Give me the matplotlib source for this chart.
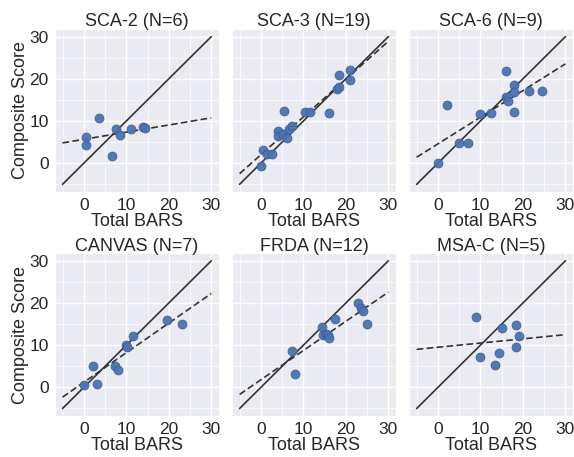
import matplotlib
matplotlib.use("Agg")
import matplotlib.pyplot as plt
import numpy as np
import seaborn as sns
from matplotlib.ticker import MultipleLocator

sns.set_style("darkgrid")
plt.rcParams['font.family'] = ['Liberation Sans', 'DejaVu Sans']

titles = ["SCA-2 (N=6)", "SCA-3 (N=19)", "SCA-6 (N=9)",
          "CANVAS (N=7)", "FRDA (N=12)", "MSA-C (N=5)"]

# total BARS (x) vs composite score (y)
sca2_x = [0.5, 0.5, 3.5, 6.6, 7.6, 8.5, 11.1, 14.0, 14.5]
sca2_y = [6.1, 4.3, 10.7, 1.7, 8.0, 6.7, 8.0, 8.5, 8.3]

sca3_x = [0.1, 0.5, 1.45, 2.6, 4.05, 4.05, 5.5, 5.2, 6.2, 6.6, 7.4,
          10.5, 11.5, 16.0, 17.8, 18.4, 18.4, 20.9, 20.9]
sca3_y = [-0.7, 3.2, 2.1, 2.1, 7.7, 6.4, 12.4, 7.0, 5.9, 8.1, 8.9,
          12.2, 12.2, 11.8, 17.6, 18.0, 20.9, 22.2, 19.7]

sca6_x = [0.1, 2.1, 5.0, 7.0, 9.95, 12.5, 16.0, 16.0, 16.5, 18.0, 18.0,
          18.0, 21.4, 24.4]
sca6_y = [0.1, 13.8, 4.9, 4.7, 11.6, 11.8, 21.9, 15.6, 14.8, 18.5, 16.9,
          12.2, 17.1, 17.1]

canvas_x = [0.1, 2.1, 3.1, 7.4, 8.0, 10.0, 10.1, 11.5, 19.6, 23.0]
canvas_y = [0.6, 5.0, 0.8, 5.1, 4.2, 10.1, 9.5, 12.2, 16.0, 15.1]

frda_x = [7.4, 8.1, 14.4, 14.7, 15.3, 15.7, 16.0, 17.4, 22.9, 23.6, 24.1, 25.0]
frda_y = [8.6, 3.1, 14.3, 12.4, 12.6, 12.3, 11.8, 16.3, 20.0, 18.9, 18.0, 15.1]

msac_x = [9.0, 9.95, 13.5, 14.3, 15.1, 18.4, 19.0, 18.4]
msac_y = [16.6, 7.1, 5.3, 8.1, 14.0, 14.9, 12.2, 9.6]

xs = [sca2_x, sca3_x, sca6_x, canvas_x, frda_x, msac_x]
ys = [sca2_y, sca3_y, sca6_y, canvas_y, frda_y, msac_y]

line_range = np.array([-5, 30])

fig, axes = plt.subplots(2, 3, figsize=(5.74, 4.57), dpi=100, sharey=True)
fig.subplots_adjust(left=0.096, right=0.998, top=0.936, bottom=0.09,
                    wspace=0.082, hspace=0.38)

for i, ax in enumerate(axes.flat):
    x = np.array(xs[i])
    y = np.array(ys[i])
    ax.plot(line_range, line_range, color="#333333", lw=1.2, zorder=2)
    slope, icpt = np.polyfit(x, y, 1)
    ax.plot(line_range, slope * line_range + icpt, color="#333333", lw=1.2,
            ls=(0, (4, 2)), zorder=2)
    ax.scatter(x, y, s=42, color="#4c72b0", alpha=0.95, edgecolor="#3b5a8c",
               linewidth=0.5, zorder=3)
    ax.set_title(titles[i], fontsize=13, pad=2)
    ax.set_xlabel("Total BARS", fontsize=13, labelpad=0)
    ax.xaxis.set_major_locator(MultipleLocator(10))
    ax.yaxis.set_major_locator(MultipleLocator(10))
    ax.xaxis.set_minor_locator(MultipleLocator(5))
    ax.yaxis.set_minor_locator(MultipleLocator(5))
    ax.grid(which="major", color="white", lw=1.0)
    ax.grid(which="minor", color="white", lw=0.5)
    ax.tick_params(labelsize=12.5, pad=1)
    if i % 3 == 0:
        ax.set_ylabel("Composite Score", fontsize=13, labelpad=0)

fig.savefig("out.png", dpi=100)
